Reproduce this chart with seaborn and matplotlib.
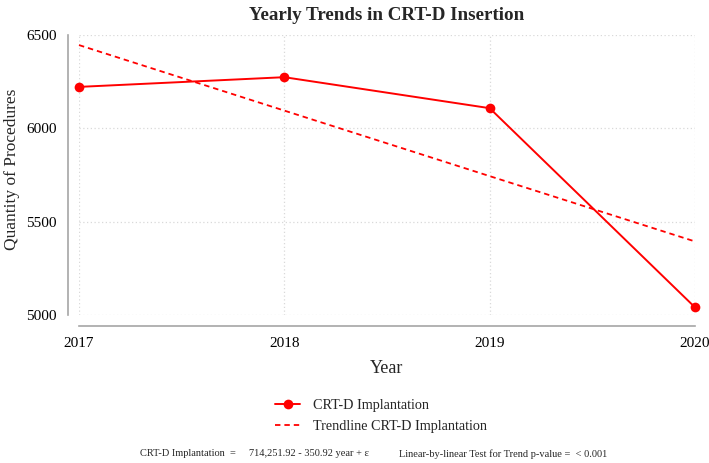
import pandas as pd
import matplotlib.pyplot as plt
import seaborn as sns

# ------------------------------------------------------------------
# Data
# ------------------------------------------------------------------
years = [2017, 2018, 2019, 2020]
procedures = [6222, 6274, 6108, 5041]
trend = [6446, 6095, 5744, 5394]   # 714,251.92 - 350.92 * year

df = pd.DataFrame({"Year": years, "Procedures": procedures, "Trend": trend})

# ------------------------------------------------------------------
# Style
# ------------------------------------------------------------------
sns.set_style("white")
plt.rcParams["font.family"] = ["Liberation Serif", "DejaVu Serif"]

fig = plt.figure(figsize=(7.09, 4.63), dpi=100)
ax = fig.add_axes([79 / 709, 148 / 463, 616 / 709, 280 / 463])

red = "#ff0000"
sns.lineplot(data=df, x="Year", y="Procedures", ax=ax, color=red, lw=1.4,
             marker="o", markersize=7, markeredgewidth=0,
             label="CRT-D Implantation", clip_on=False)
sns.lineplot(data=df, x="Year", y="Trend", ax=ax, color=red, lw=1.3,
             linestyle=(0, (3, 2.2)), label="Trendline CRT-D Implantation",
             clip_on=False)

ax.set_xlim(2017, 2020)
ax.set_ylim(5000, 6500)
ax.set_xticks(years)
ax.set_xticklabels([str(y) for y in years])
ax.set_yticks([5000, 5500, 6000, 6500])

ax.grid(True, color="#d9d9d9", linestyle=(0, (1, 2)), lw=0.9)
for s in ["top", "right"]:
    ax.spines[s].set_visible(False)
for s in ["left", "bottom"]:
    ax.spines[s].set_color("#a6a6a6")
    ax.spines[s].set_linewidth(1.2)
    ax.spines[s].set_position(("outward", 8))
ax.spines["left"].set_bounds(5000, 6500)
ax.spines["bottom"].set_bounds(2017, 2020)
ax.tick_params(axis="both", length=5, width=1.2, color="#a6a6a6",
               labelsize=11, labelcolor="black", pad=3)

ax.set_xlabel("Year", fontsize=13, labelpad=7)
ax.set_ylabel("Quantity of Procedures", fontsize=12.5)
ax.yaxis.set_label_coords(-0.096, 0.52)
ax.set_title("Yearly Trends in CRT-D Insertion", fontsize=13.7,
             fontweight="bold", pad=11)

ax.legend(loc="upper center", bbox_to_anchor=(0.5 - 6 / 616, -0.255),
          frameon=False, fontsize=10.2, handlelength=1.8, handletextpad=0.9,
          labelspacing=0.55)

fig.text(140 / 709, 1 - 454 / 463,
         "CRT-D Implantation  =     714,251.92 - 350.92 year + \u03b5",
         fontsize=7.5, va="center")
fig.text(399 / 709, 1 - 454 / 463,
         "Linear-by-linear Test for Trend p-value =  < 0.001",
         fontsize=7.5, va="center")

fig.savefig("out.png", dpi=100)
